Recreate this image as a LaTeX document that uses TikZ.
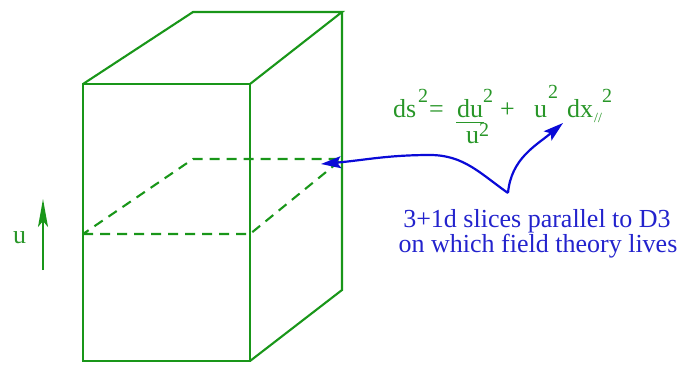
\documentclass[tikz,border=0pt]{standalone}
\usepackage{fontspec}
\setmainfont{Liberation Serif}
\usetikzlibrary{arrows.meta}
\definecolor{boxgreen}{RGB}{25,150,25}
\definecolor{txtgreen}{RGB}{40,150,40}
\definecolor{arrblue}{RGB}{10,10,215}
\definecolor{txtblue}{RGB}{35,35,205}
\tikzset{
  edge/.style={draw=boxgreen,line width=2.1bp,line join=miter},
  slice/.style={draw=boxgreen,line width=2.1bp,dash pattern=on 10bp off 7bp},
  bluearrow/.style={draw=arrblue,line width=2.2bp,-{Stealth[length=20bp,width=12bp,inset=4bp]}},
  uarrow/.style={draw=boxgreen,line width=2.1bp,-{Stealth[length=28bp,width=10bp,inset=6bp]}},
  eq/.style={inner sep=0pt,anchor=base west,text=txtgreen,font=\fontsize{26bp}{26bp}\selectfont},
  eqs/.style={inner sep=0pt,anchor=base west,text=txtgreen,font=\fontsize{20bp}{20bp}\selectfont},
  bluetxt/.style={inner sep=0pt,anchor=base,text=txtblue,font=\fontsize{26bp}{26bp}\selectfont}
}
\begin{document}
\begin{tikzpicture}[x=1bp,y=-1bp]
\useasboundingbox (0,0) rectangle (679,364);
% box corners
\coordinate (FTL) at (83,84);
\coordinate (FTR) at (250,84);
\coordinate (FBR) at (250,361);
\coordinate (FBL) at (83,361);
\coordinate (BTL) at (193,12);
\coordinate (BTR) at (342,12);
\coordinate (BBR) at (342,290);
% box
\draw[edge] (FTL) -- (FTR) -- (FBR) -- (FBL) -- cycle;
\draw[edge] (FTL) -- (BTL) -- (BTR) -- (FTR);
\draw[edge] (BTR) -- (BBR) -- (FBR);
% slice
\coordinate (S1) at (83,234);
\coordinate (S2) at (250,234);
\coordinate (S3) at (342,159);
\coordinate (S4) at (193,159);
\draw[slice] (S1) -- (S2) -- (S3) -- (S4) -- cycle;
% u arrow
\coordinate (ub) at (43,270);
\coordinate (ut) at (43,199);
\draw[uarrow] (ub) -- (ut);
\node[eq] (ulab) at (13,243) {u};
% equation
\node[eq] (ds) at (393,117) {ds};
\node[eqs] (ds2) at (418,102) {2};
\node[eq] (eqsign) at (429,117) {=};
\node[eq] (du) at (457,117) {du};
\draw[draw=txtgreen,line width=1.6bp] (du.south west) ++(-1,5) coordinate (barL) -- ++(28,0) coordinate (barR);
\node[eqs] (du2) at (483,102) {2};
\node[eq] (den) at (466,143) {u};
\node[eqs] (den2) at (479,136) {2};
\node[eq] (plus) at (500,117) {+};
\node[eq] (uu) at (534,117) {u};
\node[eqs] (uu2) at (548,98) {2};
\node[eq] (dx) at (567,117) {dx};
\node[eqs] (par) at (594,122) {\fontsize{14bp}{14bp}\selectfont //};
\node[eqs] (dx2) at (602,102) {2};
% blue text
\node[bluetxt] (l1) at (537,227) {3+1d slices parallel to D3};
\node[bluetxt] (l2) at (538,252) {on which field theory lives};
% blue arrows
\coordinate (V) at (508,193);
\coordinate (tipS) at (321,164);
\coordinate (tipE) at (563,123);
\draw[bluearrow] (V) to[out=145,in=0] (430,155) to[out=180,in=5] (tipS);
\draw[bluearrow] (V) to[out=85,in=220] (tipE);
\end{tikzpicture}
\end{document}
